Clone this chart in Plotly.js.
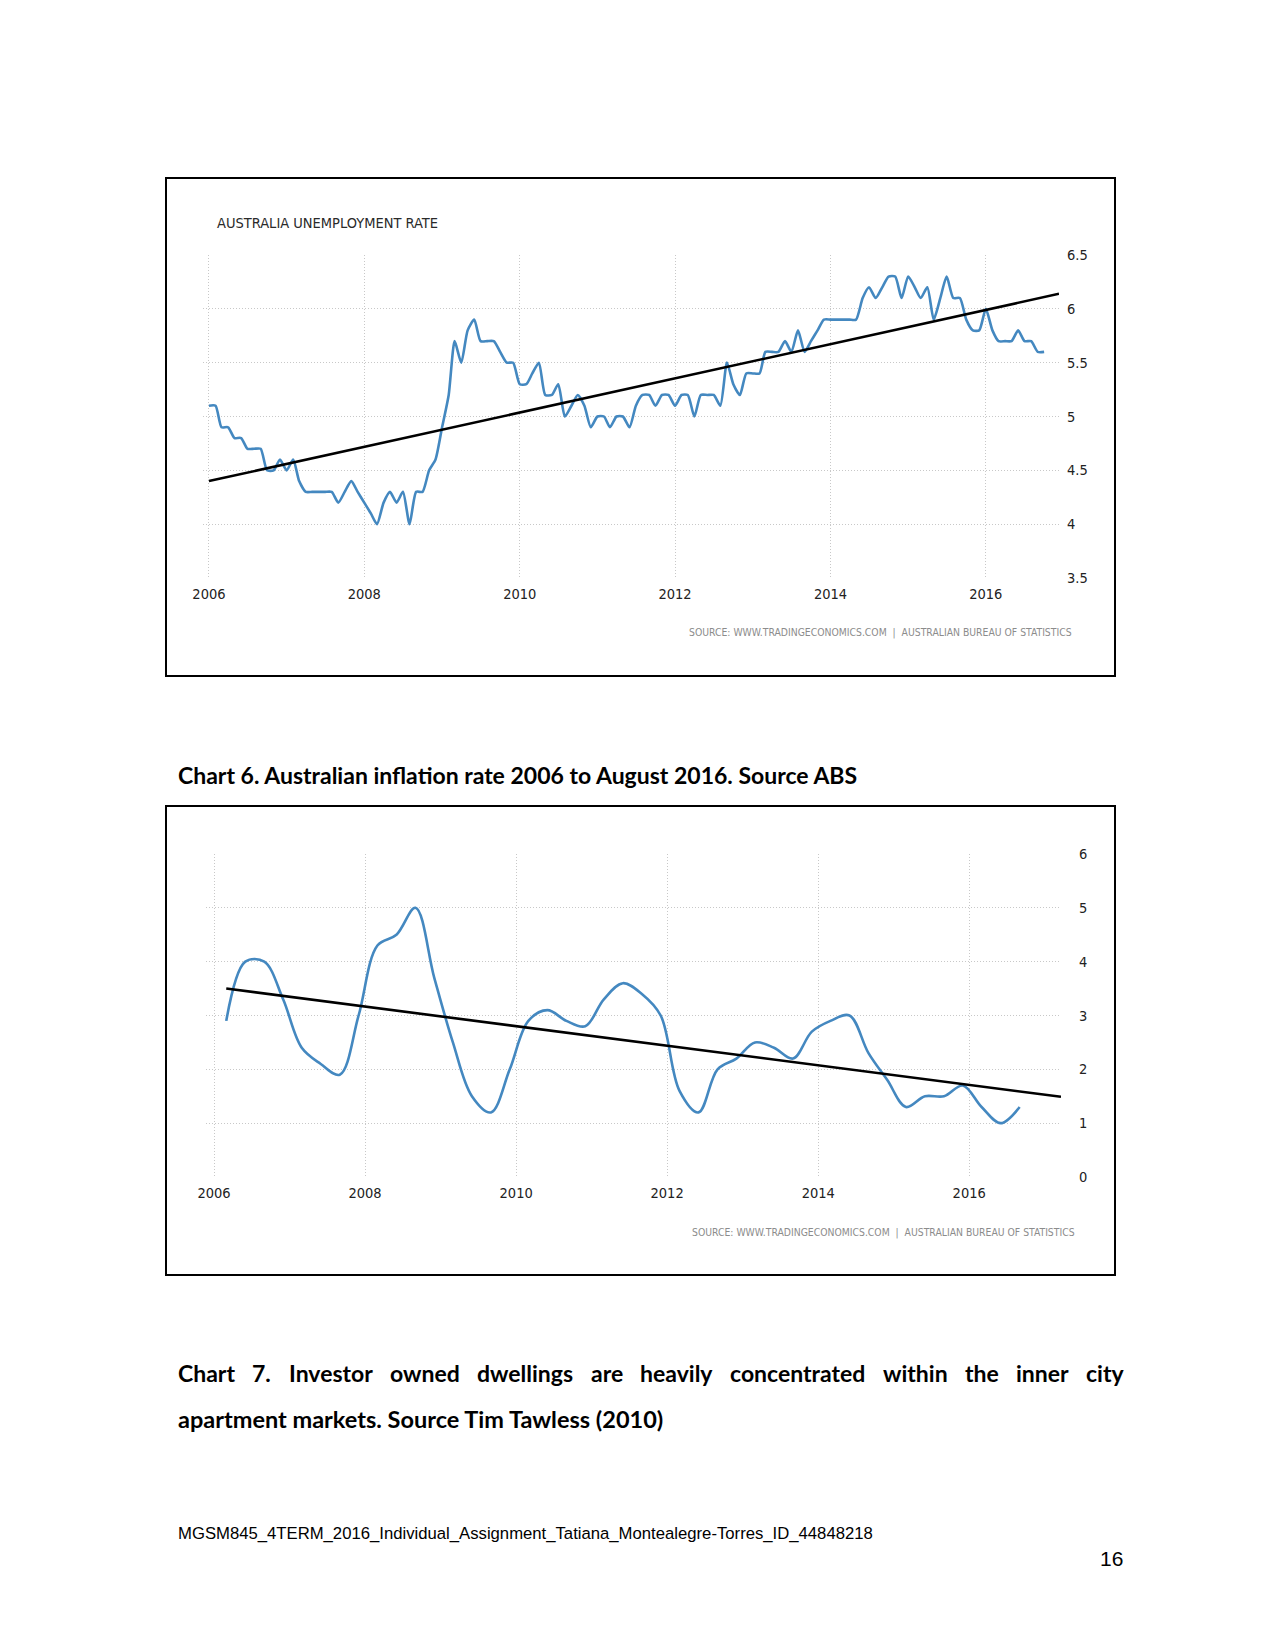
<!DOCTYPE html>
<html><head><meta charset="utf-8">
<script src="https://cdn.plot.ly/plotly-3.0.1.min.js"></script>
<style>html,body{margin:0;padding:0;background:#fff;} #chart{width:1275px;height:1650px;}</style>
</head><body><div id="chart"></div>
<script>
// ---------- DATA ----------
const unempStartYear = 2006;           // monthly series, from January 2006
const unempRate = [
5.1,5.1,4.9,4.9,4.8,4.8,4.7,4.7,4.7,4.5,4.5,4.6,
4.5,4.6,4.4,4.3,4.3,4.3,4.3,4.3,4.2,4.3,4.4,4.3,
4.2,4.1,4.0,4.2,4.3,4.2,4.3,4.0,4.3,4.3,4.5,4.6,
4.9,5.2,5.7,5.5,5.8,5.9,5.7,5.7,5.7,5.6,5.5,5.5,
5.3,5.3,5.4,5.5,5.2,5.2,5.3,5.0,5.1,5.2,5.1,4.9,
5.0,5.0,4.9,5.0,5.0,4.9,5.1,5.2,5.2,5.1,5.2,5.2,
5.1,5.2,5.2,5.0,5.2,5.2,5.2,5.1,5.5,5.3,5.2,5.4,
5.4,5.4,5.6,5.6,5.6,5.7,5.6,5.8,5.6,5.7,5.8,5.9,
5.9,5.9,5.9,5.9,5.9,6.1,6.2,6.1,6.2,6.3,6.3,6.1,
6.3,6.2,6.1,6.2,5.9,6.1,6.3,6.1,6.1,5.9,5.8,5.8,
6.0,5.8,5.7,5.7,5.7,5.8,5.7,5.7,5.6,5.6
];
const unempTrendDates = ['2006-01-01', '2016-12-10'];
const unempTrendValues = [4.40, 6.14];

const inflStartYear = 2006;            // quarterly series, from Q1 2006
const inflQuarterMonths = ['03', '06', '09', '12'];
const inflRate = [
2.9,4.0,4.0,3.3,
2.4,2.1,1.9,3.0,
4.3,4.5,5.0,3.7,
2.5,1.5,1.2,2.0,
2.9,3.1,2.9,2.8,
3.3,3.6,3.4,3.0,
1.6,1.2,2.0,2.2,
2.5,2.4,2.2,2.7,
2.9,3.0,2.3,1.8,
1.3,1.5,1.5,1.7,
1.3,1.0,1.3
];
const inflTrendDates = ['2006-03-01', '2017-03-20'];
const inflTrendValues = [3.50, 1.49];

const xTickYears = ['2006', '2008', '2010', '2012', '2014', '2016'];
const unempYTicks = [3.5, 4, 4.5, 5, 5.5, 6, 6.5];
const unempYTickText = ['3.5', '4', '4.5', '5', '5.5', '6', '6.5'];
const inflYTicks = [0, 1, 2, 3, 4, 5, 6];
const inflYTickText = ['0', '1', '2', '3', '4', '5', '6'];

const chartTitle1 = 'AUSTRALIA UNEMPLOYMENT RATE';
const sourceText = 'SOURCE: WWW.TRADINGECONOMICS.COM  |  AUSTRALIAN BUREAU OF STATISTICS';
const caption6 = 'Chart 6. Australian inflation rate 2006 to August 2016. Source ABS';
const caption7Line1 = 'Chart 7. Investor owned dwellings are heavily concentrated within the inner city';
const caption7Line2 = 'apartment markets. Source Tim Tawless (2010)';
const footerText = 'MGSM845_4TERM_2016_Individual_Assignment_Tatiana_Montealegre-Torres_ID_44848218';
const pageNumber = '16';

// ---------- HELPERS ----------
const W = 1275, H = 1650;
const px = v => v / W;
const py = v => 1 - v / H;
const pad2 = n => (n < 10 ? '0' : '') + n;
const unempDates = unempRate.map((_, i) =>
  (unempStartYear + Math.floor(i / 12)) + '-' + pad2(i % 12 + 1) + '-01');
const inflDates = inflRate.map((_, i) =>
  (inflStartYear + Math.floor(i / 4)) + '-' + inflQuarterMonths[i % 4] + '-01');
const tickDates = xTickYears.map(y => y + '-01-01');

const ctx = document.createElement('canvas').getContext('2d');
function fitSize(text, family, weight, target, base) {
  ctx.font = weight + ' ' + base + 'px ' + family;
  const w = ctx.measureText(text).width;
  return w > 0 ? base * target / w : base;
}
function textW(text, family, weight, size) {
  ctx.font = weight + ' ' + size + 'px ' + family;
  return ctx.measureText(text).width;
}

const COND = '"DejaVu Sans Condensed", "DejaVu Sans", sans-serif';
const CAPF = 'Lato, "Open Sans", sans-serif';
const ARIAL = '"Liberation Sans", Arial, sans-serif';

const capSize = fitSize(caption6, 'Lato', 'bold', 682, 21);
const cap2Size = fitSize(caption7Line2, 'Lato', 'bold', 487, 21);
const footSize = fitSize(footerText, '"Liberation Sans"', 'normal', 695, 16);
const srcSize = fitSize(sourceText, '"DejaVu Sans Condensed"', 'normal', 383, 10);
const titleSize = fitSize(chartTitle1, '"DejaVu Sans Condensed"', 'normal', 221, 13);

const BLUE = '#4488c0';
const GRID = '#c8c8c8';
const TICKC = '#222';
const TICKSIZE = 14.5;

const axisX = (dom, range) => ({
  domain: dom, range: range, type: 'date',
  tickvals: tickDates, ticktext: xTickYears,
  showgrid: true, gridcolor: GRID, griddash: '1px,2px', gridwidth: 1,
  zeroline: false, showline: false, ticks: '',
  tickfont: {family: COND, size: TICKSIZE, color: TICKC},
  ticklabelstandoff: 5, fixedrange: true
});
const axisY = (dom, range, vals, text, standoff) => ({
  domain: dom, range: range, side: 'right',
  tickvals: vals, ticktext: text,
  showgrid: true, gridcolor: GRID, griddash: '1px,2px', gridwidth: 1,
  zeroline: false, showline: false, ticks: '',
  tickfont: {family: COND, size: TICKSIZE, color: TICKC},
  ticklabelstandoff: standoff, fixedrange: true
});

const traces = [
  {x: unempDates, y: unempRate, xaxis: 'x', yaxis: 'y', type: 'scatter', mode: 'lines',
   line: {color: BLUE, width: 2.6, shape: 'spline', smoothing: 0.6}, hoverinfo: 'skip'},
  {x: unempTrendDates, y: unempTrendValues, xaxis: 'x', yaxis: 'y', type: 'scatter', mode: 'lines',
   line: {color: '#000', width: 2.6}, hoverinfo: 'skip'},
  {x: inflDates, y: inflRate, xaxis: 'x2', yaxis: 'y2', type: 'scatter', mode: 'lines',
   line: {color: BLUE, width: 2.6, shape: 'spline', smoothing: 1.0}, hoverinfo: 'skip'},
  {x: inflTrendDates, y: inflTrendValues, xaxis: 'x2', yaxis: 'y2', type: 'scatter', mode: 'lines',
   line: {color: '#000', width: 2.6}, hoverinfo: 'skip'}
];

const annotations = [];
function addText(text, x, y, size, family, color, anchor, weight) {
  annotations.push({text: weight === 'bold' ? '<b>' + text + '</b>' : text,
    xref: 'paper', yref: 'paper', x: px(x), y: py(y),
    xanchor: anchor || 'left', yanchor: 'middle', showarrow: false,
    font: {size: size, family: family, color: color}, borderpad: 0});
}
addText(chartTitle1, 216, 223, titleSize, COND, '#2a2a2a', 'left');
addText(sourceText, 1073, 633, srcSize, COND, '#8c8c8c', 'right');
addText(sourceText, 1076, 1232, srcSize, COND, '#8c8c8c', 'right');
addText(caption6, 177, 775, capSize, CAPF, '#000', 'left', 'bold');

// justified first line of caption 7
(function () {
  const words = caption7Line1.split(' ');
  const left = 177, right = 1123;
  const widths = words.map(w => textW(w, 'Lato', 'bold', capSize));
  const total = widths.reduce((a, b) => a + b, 0);
  const gap = (right - left - total) / (words.length - 1);
  let x = left;
  words.forEach((w, i) => {
    addText(w, x, 1373, capSize, CAPF, '#000', 'left', 'bold');
    x += widths[i] + gap;
  });
})();
addText(caption7Line2, 177, 1419, cap2Size, CAPF, '#000', 'left', 'bold');
addText(footerText, 177, 1533, footSize, ARIAL, '#000', 'left');
addText(pageNumber, 1124, 1558, 21, ARIAL, '#000', 'right');

const shapes = [
  {type: 'rect', xref: 'paper', yref: 'paper', x0: px(166), x1: px(1115), y0: py(178), y1: py(676),
   line: {color: '#000', width: 2}, fillcolor: 'rgba(0,0,0,0)'},
  {type: 'rect', xref: 'paper', yref: 'paper', x0: px(166), x1: px(1115), y0: py(806), y1: py(1275),
   line: {color: '#000', width: 2}, fillcolor: 'rgba(0,0,0,0)'}
];

const layout = {
  width: W, height: H, margin: {l: 0, r: 0, t: 0, b: 0},
  paper_bgcolor: '#fff', plot_bgcolor: 'rgba(0,0,0,0)',
  showlegend: false,
  xaxis: axisX([px(203), px(1059)], ['2005-12-04', '2016-12-10']),
  yaxis: axisY([py(578), py(255)], [3.5, 6.5], unempYTicks, unempYTickText, 7),
  xaxis2: axisX([px(206), px(1061)], ['2005-11-23', '2017-03-20']),
  yaxis2: axisY([py(1177), py(854)], [0, 6], inflYTicks, inflYTickText, 17),
  annotations: annotations, shapes: shapes
};
layout.xaxis2.anchor = 'y2';
layout.yaxis2.anchor = 'x2';

Plotly.newPlot('chart', traces, layout, {staticPlot: true, displayModeBar: false});
</script></body></html>
